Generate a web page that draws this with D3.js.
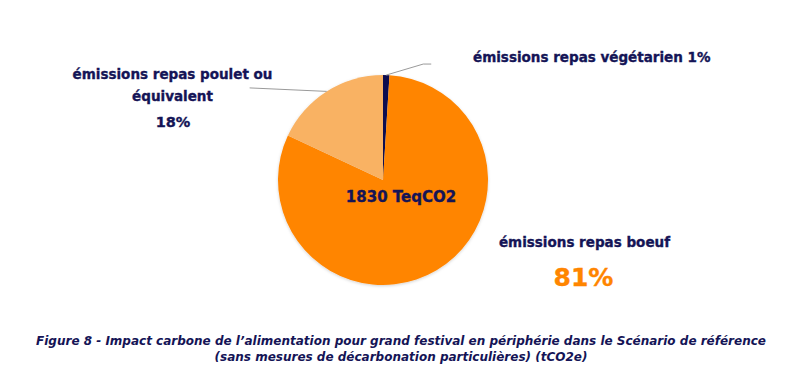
<!DOCTYPE html>
<html lang="fr">
  <head>
    <meta charset="UTF-8" />
    <title>Figure 8</title>
    <script src="https://d3js.org/d3.v7.min.js"></script>
    <style>
      body { margin: 0; background: #fff; }
      text { font-family: "DejaVu Sans", sans-serif; font-weight: 700; }
    </style>
  </head>
  <body>
    <svg width="788" height="374"></svg>
    <script>
      // data (tCO2e), order = clockwise from 12 o'clock
      var categories = ["émissions repas végétarien", "émissions repas boeuf", "émissions repas poulet ou équivalent"];
      var values = [18, 1482, 330];
      var colors = ["#0d0d4f", "#ff8500", "#f9b263"];
      var totalLabel = "1830 TeqCO2";
      var caption = [
        "Figure 8 - Impact carbone de l’alimentation pour grand festival en périphérie dans le Scénario de référence",
        "(sans mesures de décarbonation particulières) (tCO2e)"
      ];

      var navy = "#141456";
      var svg = d3.select("svg");
      var cx = 383, cy = 180, r = 105;

      // soft shadow under the pie
      var defs = svg.append("defs");
      defs.append("filter").attr("id", "shadow")
        .attr("x", "-20%").attr("y", "-20%").attr("width", "140%").attr("height", "140%")
        .append("feDropShadow")
        .attr("dx", 0).attr("dy", 1).attr("stdDeviation", 1.5)
        .attr("flood-color", "#000").attr("flood-opacity", 0.18);

      var total = d3.sum(values);
      var pie = d3.pie().sort(null).value(d => d);
      var arcs = pie(values);
      var arc = d3.arc().innerRadius(0).outerRadius(r);
      var edge = d3.arc().innerRadius(r).outerRadius(r);

      var g = svg.append("g").attr("transform", "translate(" + cx + "," + cy + ")");

      g.append("g").attr("filter", "url(#shadow)")
        .selectAll("path")
        .data(arcs)
        .join("path")
        .attr("d", arc)
        .attr("fill", (d, i) => colors[i]);

      var pct = v => Math.round(v / total * 100) + "%";

      // leader lines (veg + chicken only)
      var line = d3.line();
      var vegStart = edge.centroid(arcs[0]);
      g.append("path")
        .attr("d", line([vegStart, [vegStart[0] + 37, vegStart[1] - 11], [vegStart[0] + 45, vegStart[1] - 11]]))
        .attr("fill", "none").attr("stroke", "#9a9a9a").attr("stroke-width", 1);
      var chkStart = edge.centroid(arcs[2]);
      g.append("path")
        .attr("d", line([chkStart, [chkStart[0] - 77, chkStart[1] - 3.5]]))
        .attr("fill", "none").attr("stroke", "#9a9a9a").attr("stroke-width", 1);

      // a bit heavier than plain bold
      function heavy(sel, c) {
        sel.attr("stroke", c).attr("stroke-width", 0.35).attr("paint-order", "stroke");
      }

      // total in the middle
      svg.append("text")
        .attr("x", 401).attr("y", 202)
        .attr("text-anchor", "middle")
        .attr("font-size", 15)
        .attr("fill", navy)
        .call(heavy, navy)
        .text(totalLabel);

      // veg label
      svg.append("text")
        .attr("x", 473).attr("y", 62)
        .attr("font-size", 13.5)
        .attr("fill", navy)
        .call(heavy, navy)
        .text(categories[0] + " " + pct(values[0]));

      // chicken label
      var chk = svg.append("text").attr("text-anchor", "middle").attr("fill", navy)
        .attr("font-size", 13.5).call(heavy, navy);
      chk.append("tspan").attr("x", 172.5).attr("y", 79).text("émissions repas poulet ou");
      chk.append("tspan").attr("x", 172.5).attr("y", 101).text("équivalent");
      chk.append("tspan").attr("x", 173).attr("y", 127).attr("font-size", 14.5).text(pct(values[2]));

      // beef label
      svg.append("text")
        .attr("x", 584.5).attr("y", 247)
        .attr("text-anchor", "middle")
        .attr("font-size", 13.5)
        .attr("fill", navy)
        .call(heavy, navy)
        .text(categories[1]);
      svg.append("text")
        .attr("x", 583.5).attr("y", 286)
        .attr("text-anchor", "middle")
        .attr("font-size", 25)
        .attr("fill", colors[1])
        .call(heavy, colors[1])
        .text(pct(values[1]));

      // caption
      svg.selectAll("text.caption")
        .data(caption)
        .join("text")
        .attr("class", "caption")
        .attr("x", 401)
        .attr("y", (d, i) => 345 + i * 15.5)
        .attr("text-anchor", "middle")
        .attr("font-size", 12)
        .attr("font-style", "italic")
        .attr("fill", navy)
        .text(d => d);
    </script>
  </body>
</html>
